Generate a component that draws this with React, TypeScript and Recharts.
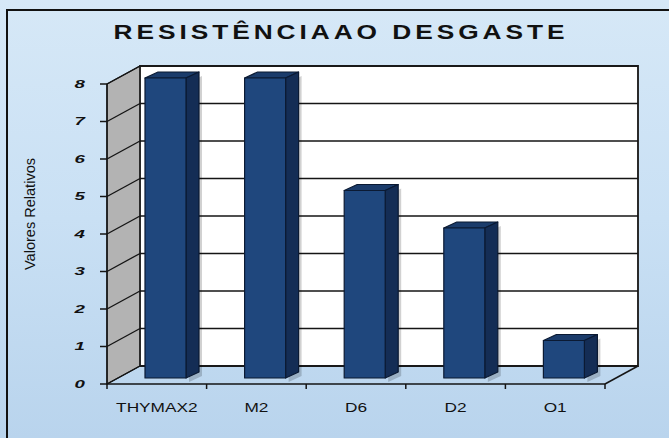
import React from 'react';
import { BarChart, Bar, XAxis, YAxis, CartesianGrid } from 'recharts';

// dados
const categories = ['THYMAX2', 'M2', 'D6', 'D2', 'O1'];
const values = [8, 8, 5, 4, 1];
const yTicks = [0, 1, 2, 3, 4, 5, 6, 7, 8];

const data = categories.map((name, i) => ({ name, value: values[i] }));

// profundidade das paredes 3D
const WALL_DX = 33;
const WALL_DY = -18;
const LINE = '#151515';

function GridLine(props: any) {
  const { x1, y1, x2, index, x, y, width, height } = props;
  return (
    <g>
      {index === 0 && (
        <g>
          <polygon
            points={`${x},${y} ${x + WALL_DX},${y + WALL_DY} ${x + WALL_DX},${y + height + WALL_DY} ${x},${y + height}`}
            fill="#b3b3b3"
            stroke={LINE}
            strokeWidth={1.2}
          />
          <rect
            x={x + WALL_DX}
            y={y + WALL_DY}
            width={width}
            height={height}
            fill="#ffffff"
            stroke="#2a2a2a"
            strokeWidth={2}
          />
          <line
            x1={x + width}
            y1={y + height}
            x2={x + width + WALL_DX}
            y2={y + height + WALL_DY}
            stroke={LINE}
            strokeWidth={1.5}
          />
        </g>
      )}
      <line x1={x1 + WALL_DX} y1={y1 + WALL_DY} x2={x2 + WALL_DX} y2={y1 + WALL_DY} stroke={LINE} strokeWidth={1.6} />
      <line x1={x1} y1={y1} x2={x1 + WALL_DX} y2={y1 + WALL_DY} stroke={LINE} strokeWidth={1.4} />
    </g>
  );
}

function Bar3D(props: any) {
  const { x, y, width, height } = props;
  if (!height) return null;
  const fx = x + 9;
  const fy = y - 6;
  const dx = 13;
  const dy = -6;
  return (
    <g stroke="#0b1a33" strokeWidth={1.2} strokeLinejoin="round">
      <polygon
        points={`${fx + width + 3},${fy + 4} ${fx + width + dx + 3},${fy + dy + 4} ${fx + width + dx + 3},${fy + height + dy + 4} ${fx + width + 3},${fy + height + 4}`}
        fill="rgba(0,0,0,0.18)"
        stroke="none"
      />
      <polygon
        points={`${fx},${fy} ${fx + dx},${fy + dy} ${fx + width + dx},${fy + dy} ${fx + width},${fy}`}
        fill="#1b3c6b"
      />
      <polygon
        points={`${fx + width},${fy} ${fx + width + dx},${fy + dy} ${fx + width + dx},${fy + height + dy} ${fx + width},${fy + height}`}
        fill="#142d55"
      />
      <rect x={fx} y={fy} width={width} height={height} fill="#1f477d" />
    </g>
  );
}

function YTick(props: any) {
  const { x, y, payload } = props;
  return (
    <text
      transform={`translate(${x} ${y}) scale(1.7 1)`}
      dy="0.36em"
      textAnchor="end"
      fontFamily="'Liberation Sans', Arial, sans-serif"
      fontSize={11}
      fontWeight="bold"
      fontStyle="italic"
      fill="#111"
    >
      {payload.value}
    </text>
  );
}

function XTick(props: any) {
  const { x, y, payload, index, width, visibleTicksCount } = props;
  const half = width / visibleTicksCount / 2;
  return (
    <g>
      <line x1={x - half} y1={y} x2={x - half} y2={y + 5} stroke={LINE} strokeWidth={1.5} />
      {index === visibleTicksCount - 1 && (
        <line x1={x + half} y1={y} x2={x + half} y2={y + 5} stroke={LINE} strokeWidth={1.5} />
      )}
      <text
        transform={`translate(${x} ${y + 28}) scale(1.38 1)`}
        textAnchor="middle"
        fontFamily="'Liberation Sans', Arial, sans-serif"
        fontSize={12.5}
        fill="#111"
      >
        {payload.value}
      </text>
    </g>
  );
}

export default function App() {
  return (
    <div
      style={{
        position: 'relative',
        width: 669,
        height: 438,
        overflow: 'hidden',
        background: 'linear-gradient(180deg, #d6e8f7 0%, #c9e0f4 50%, #b9d4ed 100%)',
      }}
    >
      <style>{'body{margin:0}'}</style>
      <div
        style={{
          position: 'absolute',
          left: 6,
          top: 9,
          width: 669,
          height: 438,
          borderLeft: '2px solid #111',
          borderTop: '2px solid #111',
        }}
      />
      <div style={{ position: 'absolute', left: 0, top: 0 }}>
        <BarChart
          width={669}
          height={438}
          data={data}
          margin={{ top: 84, right: 64, bottom: 0, left: 0 }}
          barSize={41}
        >
          <CartesianGrid horizontal={GridLine} vertical={false} />
          <XAxis
            dataKey="name"
            height={54}
            interval={0}
            tickLine={false}
            tickSize={0}
            tickMargin={0}
            axisLine={{ stroke: LINE, strokeWidth: 1.5 }}
            tick={<XTick />}
          />
          <YAxis
            domain={[0, 8]}
            ticks={yTicks}
            interval={0}
            width={107}
            tickSize={7}
            tickMargin={15}
            axisLine={{ stroke: LINE, strokeWidth: 1.5 }}
            tickLine={{ stroke: LINE, strokeWidth: 1.5 }}
            tick={<YTick />}
          />
          <Bar dataKey="value" shape={<Bar3D />} isAnimationActive={false} />
        </BarChart>
      </div>
      <svg width={669} height={438} style={{ position: 'absolute', left: 0, top: 0, pointerEvents: 'none' }}>
        <text
          x={341}
          y={39}
          textAnchor="middle"
          fontFamily="'Liberation Sans', Arial, sans-serif"
          fontSize={20}
          fontWeight="bold"
          letterSpacing={3}
          fill="#111"
          textLength={455}
          lengthAdjust="spacingAndGlyphs"
        >
          RESISTÊNCIAAO DESGASTE
        </text>
        <text
          transform="translate(35 214) rotate(-90)"
          textAnchor="middle"
          fontFamily="'Liberation Sans', Arial, sans-serif"
          fontSize={14}
          fill="#111"
          textLength={112}
          lengthAdjust="spacingAndGlyphs"
        >
          Valores Relativos
        </text>
      </svg>
    </div>
  );
}
